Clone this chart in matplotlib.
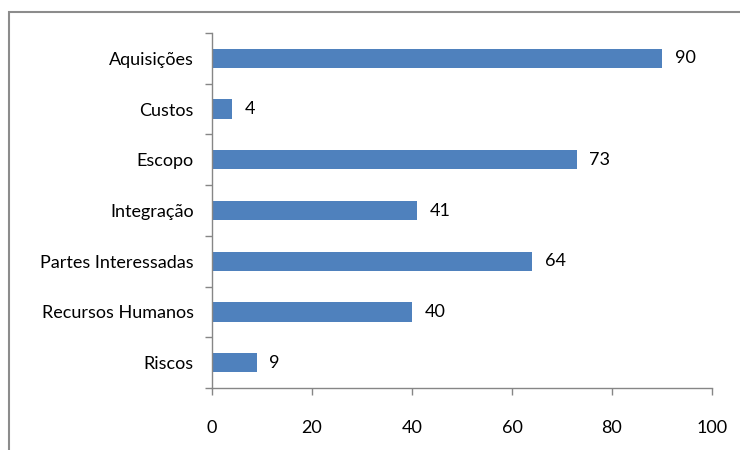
import matplotlib.pyplot as plt
from matplotlib.patches import Rectangle

categorias = ["Aquisições", "Custos", "Escopo", "Integração",
              "Partes Interessadas", "Recursos Humanos", "Riscos"]
valores = [90, 4, 73, 41, 64, 40, 9]
ticks_x = [0, 20, 40, 60, 80, 100]

plt.rcParams["font.family"] = ["Lato", "DejaVu Sans"]
plt.rcParams["font.size"] = 13

cor_barra = "#4F81BD"
cor_eixo = "#868686"

fig = plt.figure(figsize=(7.4, 4.5), dpi=100)
ax = fig.add_axes([212 / 740, 1 - 388 / 450, 500 / 740, 355 / 450])

pos = list(range(len(categorias)))
ax.barh(pos, valores, height=0.38, color=cor_barra)
for p, v in zip(pos, valores):
    ax.annotate(str(v), (v, p), xytext=(9, 0), textcoords="offset points",
                va="center", ha="left", color="black")

ax.set_xlim(0, 100)
ax.set_ylim(len(categorias) - 0.5, -0.5)
ax.set_xticks(ticks_x)
ax.set_yticks(pos)
ax.set_yticklabels(categorias)
ax.set_yticks([i - 0.5 for i in range(len(categorias) + 1)], minor=True)
ax.tick_params(axis="y", which="major", length=0, pad=13)
ax.tick_params(axis="y", which="minor", length=5, color=cor_eixo, width=1)
ax.tick_params(axis="x", length=5, color=cor_eixo, width=1, pad=18)

for lado in ["top", "right"]:
    ax.spines[lado].set_visible(False)
for lado in ["left", "bottom"]:
    ax.spines[lado].set_color(cor_eixo)
    ax.spines[lado].set_linewidth(1)

# moldura da area do grafico
fig.patches.append(Rectangle((9 / 740, -0.1), 1.1, 1 - 12 / 450 + 0.1,
                             transform=fig.transFigure, fill=False,
                             edgecolor="#8c8c8c", linewidth=1.5))

fig.savefig("out.png", dpi=100)
